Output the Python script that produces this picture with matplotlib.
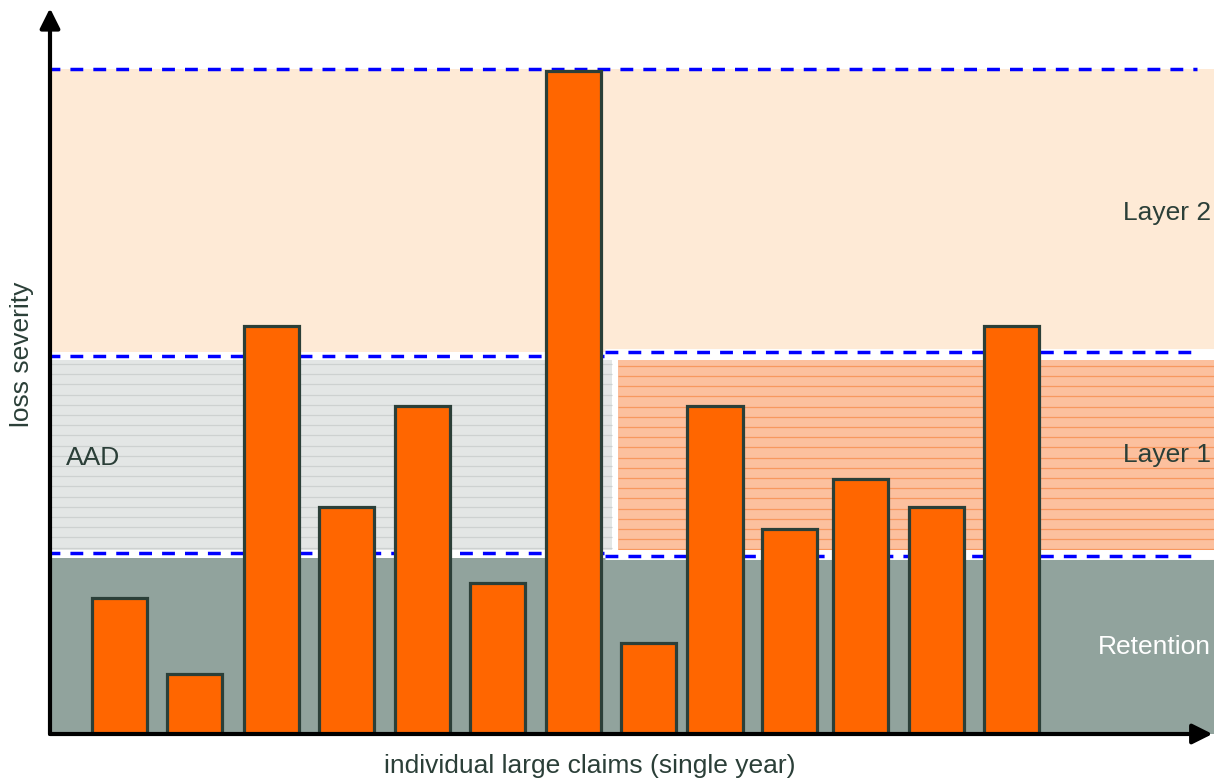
import matplotlib
matplotlib.use("Agg")
import matplotlib.pyplot as plt
import numpy as np

plt.rcParams['font.family'] = ['Liberation Sans', 'DejaVu Sans']

# Individual large claims of a single year (position along the x axis, loss severity)
claim_pos = [0.92, 1.92, 2.93, 3.93, 4.93, 5.93, 6.93, 7.93, 8.81, 9.80, 10.74, 11.74, 12.74]
claim_size = [2.27, 1.00, 6.80, 3.78, 5.47, 2.52, 11.05, 1.52, 5.47, 3.42, 4.25, 3.78, 6.80]

# Programme structure (severity bands)
retention = 2.97
aad_band = (3.02, 6.31)
layer1_band = (2.97, 6.37)
layer2_top = 11.08
aad_right = 7.44
layer1_left = 7.52

x_max = 15.42
y_max = 12.07

band_labels = ["Layer 2", "Layer 1", "Retention", "AAD"]

dark = "#2b3f38"
bar_color = "#ff6600"

fig = plt.figure(figsize=(12.14, 7.81), dpi=100)
ax = fig.add_axes([50 / 1214, 47 / 781, 1164 / 1214, 724 / 781])
ax.set_xlim(0, x_max)
ax.set_ylim(0, y_max)
for s in ax.spines.values():
    s.set_visible(False)
ax.set_xticks([])
ax.set_yticks([])


def ruled_band(x0, x1, y0, y1, face, rule, step=0.17):
    """Filled band with fine horizontal rules."""
    ax.fill_between([x0, x1], y0, y1, color=face, lw=0, zorder=1)
    ys = np.arange(y1 - step * 0.6, y0, -step)
    ax.hlines(ys, x0, x1, colors=rule, lw=0.9, zorder=1.1)


# Bands
ax.fill_between([0, x_max], layer1_band[1], layer2_top, color="#feead6", lw=0, zorder=1)
ax.fill_between([0, x_max], 0, retention - 0.03, color="#91a39d", lw=0, zorder=1)
ruled_band(0, aad_right, aad_band[0] + 0.04, aad_band[1] - 0.04, "#e3e6e5", "#cdd1d0")
ruled_band(layer1_left, x_max, layer1_band[0] + 0.09, layer1_band[1] - 0.13, "#fcc09e", "#f7985f")

# Band limits: white halo under blue dashes
dash_style = (0, (3.7, 2.9))
segments = [
    (0, x_max - 0.22, layer2_top),
    (0, aad_right - 0.1, aad_band[1]),
    (0, aad_right - 0.1, aad_band[0]),
    (aad_right - 0.05, x_max - 0.22, layer1_band[1]),
    (aad_right - 0.05, x_max - 0.22, layer1_band[0]),
]
for x0, x1, y in segments[1:]:
    ax.plot([x0 - 0.04, x_max], [y, y], color="white", lw=5, solid_capstyle="butt", zorder=2)
for x0, x1, y in segments:
    ax.plot([x0 - 0.04, x1], [y, y], color="#0000ff", lw=2.5, linestyle=dash_style, zorder=2.5)

# Claims
ax.bar(claim_pos, claim_size, width=0.73, color=bar_color, edgecolor=dark,
       linewidth=2.3, zorder=3)

# Band labels
fs = 19
ax.text(x_max - 0.04, 8.68, band_labels[0], ha="right", va="center", fontsize=fs, color=dark, zorder=5)
ax.text(x_max - 0.04, 4.65, band_labels[1], ha="right", va="center", fontsize=fs, color=dark, zorder=5)
ax.text(x_max - 0.04, 1.45, band_labels[2], ha="right", va="center", fontsize=fs, color="white", zorder=5)
ax.text(0.21, 4.6, band_labels[3], ha="left", va="center", fontsize=fs, color=dark, zorder=5)

# Axes with arrow heads
arrow = dict(arrowstyle="-|>,head_length=0.6,head_width=0.3", mutation_scale=20,
             color="black", lw=3, shrinkA=0, shrinkB=0)
ax.annotate("", xy=(x_max - 0.02, 0), xytext=(0, 0), arrowprops=arrow,
            annotation_clip=False, zorder=6)
ax.annotate("", xy=(0, y_max + 0.03), xytext=(0, 0), arrowprops=arrow,
            annotation_clip=False, zorder=6)

fig.text(22 / 1214, 1 - 354 / 781, "loss severity", rotation=90, ha="center", va="center",
         fontsize=fs, color=dark)
fig.text(590 / 1214, 1 - 766 / 781, "individual large claims (single year)", ha="center",
         va="center", fontsize=fs, color=dark)

fig.savefig("out.png", dpi=100, facecolor="white")
